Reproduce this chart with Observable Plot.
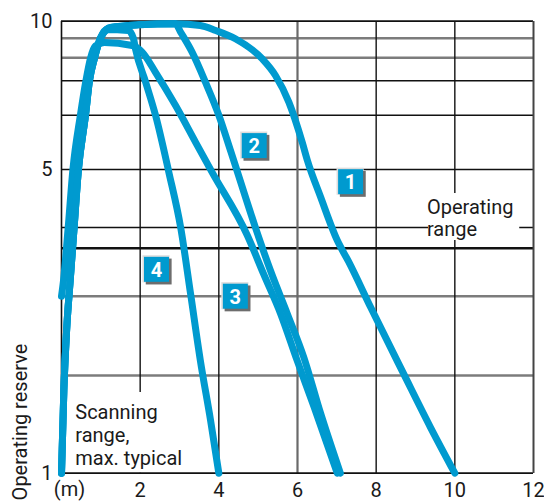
<!DOCTYPE html>
<html><head><meta charset="utf-8">
<script src="https://cdn.jsdelivr.net/npm/d3@7"></script>
<script src="https://cdn.jsdelivr.net/npm/@observablehq/plot@0.6"></script>
<style>html,body{margin:0;padding:0;background:#fff} svg{display:block}</style>
</head><body><div id="chart"></div>
<script>
// ---- axis / grid values ----
const xTicks = [2, 4, 6, 8, 10, 12];
const yTicks = [1, 5, 10];
const yGridValues = [1, 2, 3, 3.5, 4, 5, 6, 7, 8, 9, 10];
const yGridPixels = [472.7, 375, 295.7, 247.7, 227, 169, 114.7, 80.3, 57.3, 37.7, 20.7];
const gridYGray = [2, 3, 8, 9];
const gridYBlack = [4, 5, 6, 7];
const gridYThick = [3.5];
const gridXBlack = [2, 4, 8, 10];
const gridXGray = [6];

// ---- curves (scanning distance in m, operating reserve) ----
const curve1X = [0, 0.06, 0.13, 0.22, 0.32, 0.43, 0.61, 0.71, 0.84, 0.99, 1.14, 1.25, 1.96, 2.9, 3.53, 3.92, 4.42, 5.1, 5.44, 5.78, 6.12, 6.25, 6.59, 7.01, 7.3, 7.86, 8.7, 9.38, 10];
const curve1Y = [1, 1.85, 2.57, 3.16, 4, 5, 6, 7, 8, 9, 9.51, 9.63, 9.79, 9.85, 9.75, 9.45, 8.97, 7.96, 7.23, 6.38, 5.5, 5.17, 4.52, 3.69, 3.36, 2.86, 2.02, 1.47, 1];
const curve2X = [0, 0.06, 0.13, 0.22, 0.32, 0.43, 0.61, 0.71, 0.84, 0.99, 1.14, 1.25, 1.96, 2.9, 3.03, 3.32, 3.66, 4.0, 4.31, 4.93, 5.31, 5.74, 6.16, 6.59, 7.09];
const curve2Y = [1, 1.85, 2.57, 3.16, 4, 5, 6, 7, 8, 9, 9.51, 9.63, 9.79, 9.85, 9.35, 8.29, 6.96, 6.0, 5.32, 4.0, 3.27, 2.78, 2.23, 1.61, 1];
const curve3X = [0, 0.05, 0.17, 0.29, 0.48, 0.62, 0.74, 0.86, 1.09, 1.8, 2.05, 2.39, 2.9, 3.41, 3.83, 4.72, 5.14, 5.57, 5.99, 6.42, 7.01];
const curve3Y = [3.0, 3.16, 4, 5, 6, 7, 8, 8.6, 8.78, 8.63, 8.29, 7.37, 6.28, 5.5, 4.95, 3.82, 3.23, 2.78, 2.19, 1.68, 1];
const curve4X = [0, 0.06, 0.13, 0.22, 0.32, 0.43, 0.61, 0.71, 0.84, 0.99, 1.14, 1.7, 1.83, 1.88, 2.14, 2.39, 2.73, 3.03, 3.28, 3.53, 3.79, 4];
const curve4Y = [1, 1.85, 2.57, 3.16, 4, 5, 6, 7, 8, 9, 9.51, 9.45, 8.98, 8.46, 6.96, 6.0, 4.95, 4.0, 3.03, 2.19, 1.54, 1];

// ---- curve number labels ----
const labelText = ["1", "2", "3", "4"];
const labelX = [7.35, 4.90, 4.42, 2.415];
const labelY = [4.79, 5.44, 3.0, 3.28];

// ---- annotations ----
const noteText = ["Operating\nrange", "Scanning\nrange,\nmax. typical"];
const noteX = [9.29, 0.35];
const noteY = [4.49, 1.72];
const noteLineHeight = [1.07, 1.15];
const noteBoxX1 = [9.33, 0.18];
const noteBoxX2 = [11.65, 3.13];
const noteBoxY1 = [3.686, 1.0];
const noteBoxY2 = [4.586, 1.826];

const blue = "#009ACF";

const curves = [[curve1X, curve1Y], [curve2X, curve2Y], [curve3X, curve3Y], [curve4X, curve4Y]];
const rows = curves.flatMap(([xs, ys], i) => xs.map((x, j) => ({series: labelText[i], x, y: ys[j]})));
const labels = labelText.map((t, i) => ({t, x: labelX[i], y: labelY[i]}));
const boxes = noteText.map((t, i) => ({x1: noteBoxX1[i], x2: noteBoxX2[i], y1: noteBoxY1[i], y2: noteBoxY2[i]}));
const notes = noteText.map((t, i) => ({t, x: noteX[i], y: noteY[i], lh: noteLineHeight[i]}));

const chart = Plot.plot({
  width: 544,
  height: 503,
  marginLeft: 61,
  marginRight: 11,
  marginTop: 21,
  marginBottom: 30,
  style: {fontFamily: "Roboto, 'Liberation Sans', sans-serif", fontSize: "20px", color: "#1a1a1a", background: "white"},
  x: {type: "linear", domain: [0, 12]},
  y: {type: "linear", domain: yGridValues, range: yGridPixels},
  marks: [
    Plot.ruleY(gridYGray, {stroke: "#7c7c7c", strokeWidth: 2.5}),
    Plot.ruleY(gridYBlack, {stroke: "#111", strokeWidth: 1.4}),
    Plot.ruleY(gridYThick, {stroke: "#111", strokeWidth: 2.6}),
    Plot.ruleX(gridXBlack, {stroke: "#111", strokeWidth: 1.4}),
    Plot.ruleX(gridXGray, {stroke: "#6a6a6a", strokeWidth: 2.2}),
    Plot.rect(boxes, {x1: "x1", x2: "x2", y1: "y1", y2: "y2", fill: "white"}),
    Plot.ruleY([1, 10], {stroke: "#111", strokeWidth: 1.8}),
    Plot.ruleX([0], {stroke: "#111", strokeWidth: 1.6}),
    Plot.ruleX([12], {stroke: "#444", strokeWidth: 2}),
    Plot.line(rows, {x: "x", y: "y", z: "series", stroke: blue, strokeWidth: 7,
      strokeLinecap: "round", strokeLinejoin: "round", curve: "monotone-x"}),
    Plot.dot(labels, {x: "x", y: "y", symbol: "square", r: 15.3, fill: "#dcdcdc", dx: -0.5, dy: -0.5}),
    Plot.dot(labels, {x: "x", y: "y", symbol: "square", r: 14.6, fill: "#6d6d6d", dx: 2.2, dy: 2.2}),
    Plot.dot(labels, {x: "x", y: "y", symbol: "square", r: 14.1, fill: blue}),
    Plot.text(labels, {x: "x", y: "y", text: "t", fill: "white", fontWeight: "bold", fontSize: 20, dy: 1}),
    Plot.text([notes[0]], {x: "x", y: "y", text: "t", textAnchor: "start", lineAnchor: "top", lineHeight: notes[0].lh, fontSize: 20, fill: "#1a1a1a"}),
    Plot.text([notes[1]], {x: "x", y: "y", text: "t", textAnchor: "start", lineAnchor: "top", lineHeight: notes[1].lh, fontSize: 20, fill: "#1a1a1a"}),
    Plot.text([{t: "(m)", x: 0, y: 1}], {x: "x", y: "y", text: "t", textAnchor: "middle", lineAnchor: "top", dx: 8, dy: 9, fontSize: 20, fill: "#1a1a1a"}),
    Plot.text([{t: "Operating reserve", x: 0, y: 1.524}], {x: "x", y: "y", text: "t", rotate: -90, dx: -40.5, fontSize: 20, fill: "#1a1a1a"}),
    Plot.axisX(xTicks, {anchor: "bottom", tickSize: 0, tickPadding: 9, fontSize: 20, label: null, tickFormat: d => String(d)}),
    Plot.axisY(yTicks, {anchor: "left", tickSize: 0, tickPadding: 9, fontSize: 20, label: null, tickFormat: d => String(d)})
  ]
});
document.getElementById("chart").appendChild(chart);
</script>
</body></html>
